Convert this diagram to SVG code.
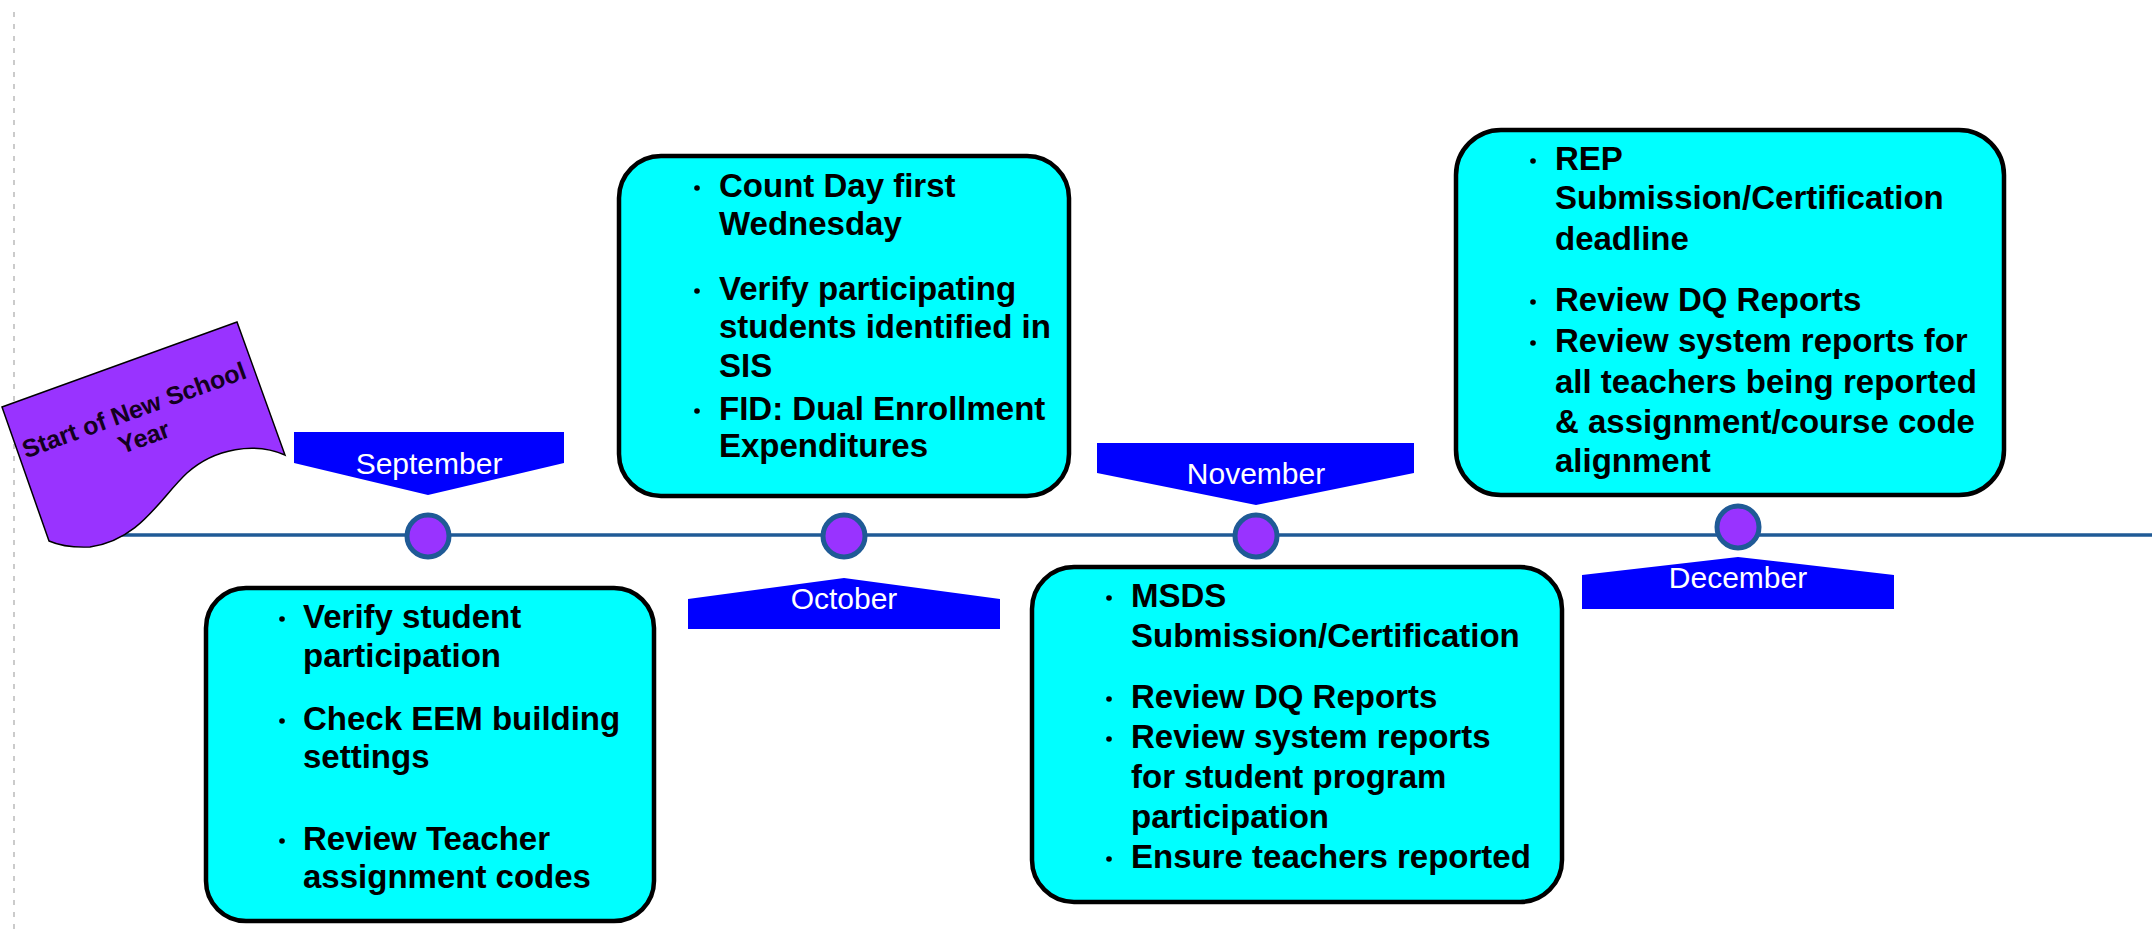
<svg xmlns="http://www.w3.org/2000/svg" width="2152" height="936" viewBox="0 0 2152 936">
<style>
.box{fill:#00FFFF;stroke:#000;stroke-width:4.5}
.t{font-family:"Liberation Sans",Arial,sans-serif;font-weight:bold;font-size:33px;fill:#000}
.b{fill:#000}
.ban{fill:#0000FF}
.bt{font-family:"Liberation Sans",Arial,sans-serif;font-size:30px;fill:#FFFFFF;text-anchor:middle}
.dot{fill:#9933FF;stroke:#1F5A96;stroke-width:5}
.ft{font-family:"Liberation Sans",Arial,sans-serif;font-weight:bold;font-size:25px;fill:#140020;text-anchor:middle}
</style>
<rect width="2152" height="936" fill="#FFFFFF"/>
<line x1="14" y1="12" x2="14" y2="936" stroke="#BBBBBB" stroke-width="1.5" stroke-dasharray="5 7"/>
<g id="connectors">
<line x1="120" y1="535" x2="2152" y2="535" stroke="#1F5A96" stroke-width="3.5"/>
</g>
<g id="start">
<path d="M2,407 L237,322 L285,455 C255,442 215,448 187,473 C160,498 140,540 90,547 Q65,548 49,541 Z" fill="#9933FF" stroke="#000" stroke-width="1.5"/>
<g transform="translate(137,418) rotate(-20)">
<text class="ft" x="0" y="0">Start of New School</text>
<text class="ft" x="0" y="29">Year</text>
</g>
</g>
<g id="september">
<polygon class="ban" points="294,432 564,432 564,463 428,495 294,463"/>
<text class="bt" x="429" y="474">September</text>
<circle class="dot" cx="428" cy="536" r="21"/>
</g>
<g id="september-box">
<rect class="box" x="206" y="588" width="448" height="333" rx="40"/>
<circle class="b" cx="282" cy="619" r="2.8"/>
<text class="t" x="303" y="628">Verify student</text>
<text class="t" x="303" y="667">participation</text>
<circle class="b" cx="282" cy="721" r="2.8"/>
<text class="t" x="303" y="730">Check EEM building</text>
<text class="t" x="303" y="768">settings</text>
<circle class="b" cx="282" cy="841" r="2.8"/>
<text class="t" x="303" y="850">Review Teacher</text>
<text class="t" x="303" y="888">assignment codes</text>
</g>
<g id="october">
<polygon class="ban" points="688,599 844,578 1000,599 1000,629 688,629"/>
<text class="bt" x="844" y="609">October</text>
<circle class="dot" cx="844" cy="536" r="21"/>
</g>
<g id="october-box">
<rect class="box" x="619" y="156" width="450" height="340" rx="42"/>
<circle class="b" cx="697" cy="188" r="2.8"/>
<text class="t" x="719" y="197">Count Day first</text>
<text class="t" x="719" y="235">Wednesday</text>
<circle class="b" cx="697" cy="291" r="2.8"/>
<text class="t" x="719" y="300">Verify participating</text>
<text class="t" x="719" y="338">students identified in</text>
<text class="t" x="719" y="377">SIS</text>
<circle class="b" cx="697" cy="411" r="2.8"/>
<text class="t" x="719" y="420">FID: Dual Enrollment</text>
<text class="t" x="719" y="457">Expenditures</text>
</g>
<g id="november">
<polygon class="ban" points="1097,443 1414,443 1414,473 1256,505 1097,473"/>
<text class="bt" x="1256" y="484">November</text>
<circle class="dot" cx="1256" cy="536" r="21"/>
</g>
<g id="november-box">
<rect class="box" x="1032" y="567" width="530" height="335" rx="42"/>
<circle class="b" cx="1109" cy="598" r="2.8"/>
<text class="t" x="1131" y="607">MSDS</text>
<text class="t" x="1131" y="647">Submission/Certification</text>
<circle class="b" cx="1109" cy="699" r="2.8"/>
<text class="t" x="1131" y="708">Review DQ Reports</text>
<circle class="b" cx="1109" cy="739" r="2.8"/>
<text class="t" x="1131" y="748">Review system reports</text>
<text class="t" x="1131" y="788">for student program</text>
<text class="t" x="1131" y="828">participation</text>
<circle class="b" cx="1109" cy="859" r="2.8"/>
<text class="t" x="1131" y="868">Ensure teachers reported</text>
</g>
<g id="december">
<polygon class="ban" points="1582,575 1738,557 1894,575 1894,609 1582,609"/>
<text class="bt" x="1738" y="588">December</text>
<circle class="dot" cx="1738" cy="527" r="21"/>
</g>
<g id="december-box">
<rect class="box" x="1456" y="130" width="548" height="365" rx="45"/>
<circle class="b" cx="1533" cy="161" r="2.8"/>
<text class="t" x="1555" y="170">REP</text>
<text class="t" x="1555" y="209">Submission/Certification</text>
<text class="t" x="1555" y="250">deadline</text>
<circle class="b" cx="1533" cy="302" r="2.8"/>
<text class="t" x="1555" y="311">Review DQ Reports</text>
<circle class="b" cx="1533" cy="343" r="2.8"/>
<text class="t" x="1555" y="352">Review system reports for</text>
<text class="t" x="1555" y="393">all teachers being reported</text>
<text class="t" x="1555" y="433">&amp; assignment/course code</text>
<text class="t" x="1555" y="472">alignment</text>
</g>
</svg>
